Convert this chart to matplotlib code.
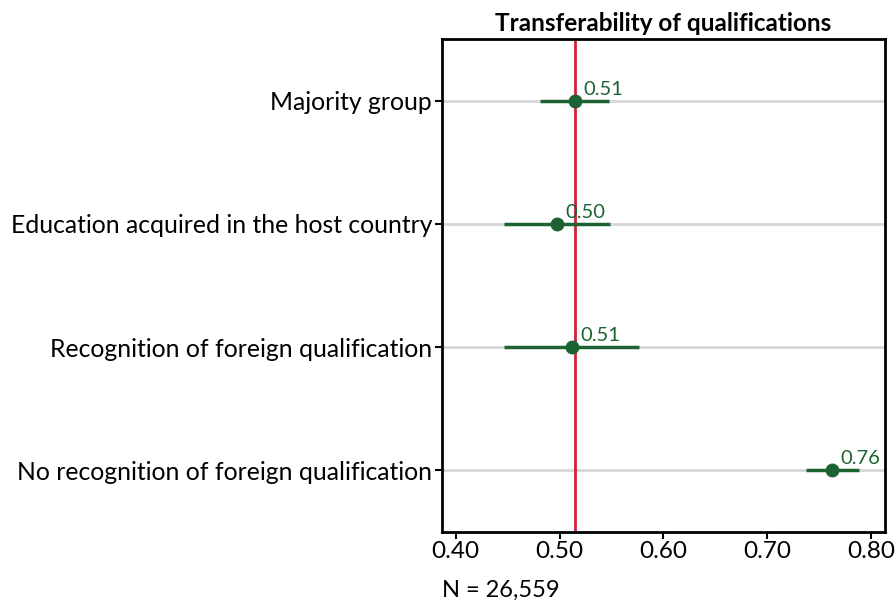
import numpy as np
import matplotlib.pyplot as plt

plt.rcParams['font.family'] = ['Lato', 'DejaVu Sans']

# Coefficients with confidence intervals
categories = ["Majority group",
              "Education acquired in the host country",
              "Recognition of foreign qualification",
              "No recognition of foreign qualification"]
estimate = [0.5145, 0.4975, 0.5116, 0.7628]
ci_low = [0.481, 0.4468, 0.4468, 0.7378]
ci_high = [0.548, 0.5488, 0.5767, 0.7885]
labels = ["0.51", "0.50", "0.51", "0.76"]
reference = 0.5145
xticks = [0.40, 0.50, 0.60, 0.70, 0.80]

green = '#1d6331'
red = '#d0203a'

fig = plt.figure(figsize=(8.96, 6.08), dpi=100)
ax = fig.add_axes([0.493, 0.1255, 0.4947, 0.81])

ypos = np.arange(len(categories))
for y in ypos:
    ax.axhline(y, color='#d6d6d6', lw=2, zorder=1)

ax.axvline(reference, color=red, lw=2, zorder=2)
ax.hlines(ypos, ci_low, ci_high, color=green, lw=2.5, zorder=3)
ax.plot(estimate, ypos, 'o', color=green, ms=9, zorder=4)

for x, y, t in zip(estimate, ypos, labels):
    ax.annotate(t, (x, y), xytext=(6, 2), textcoords='offset points',
                color=green, fontsize=14.5, ha='left', va='bottom')

ax.set_xlim(0.3865, 0.8135)
ax.set_ylim(len(categories) - 0.5, -0.5)
ax.set_yticks(ypos)
ax.set_yticklabels(categories, fontsize=17.8)
ax.set_xticks(xticks)
ax.set_xticklabels([f"{v:.2f}" for v in xticks], fontsize=17.5)
ax.tick_params(length=5, width=1.5, color='black', pad=2)
for s in ax.spines.values():
    s.set_linewidth(2)

ax.set_title("Transferability of qualifications", fontsize=17.5, fontweight='bold', pad=6)
fig.text(0.493, 0.012, "N = 26,559", fontsize=17, ha='left', va='bottom')

fig.savefig('out.png', dpi=100)
